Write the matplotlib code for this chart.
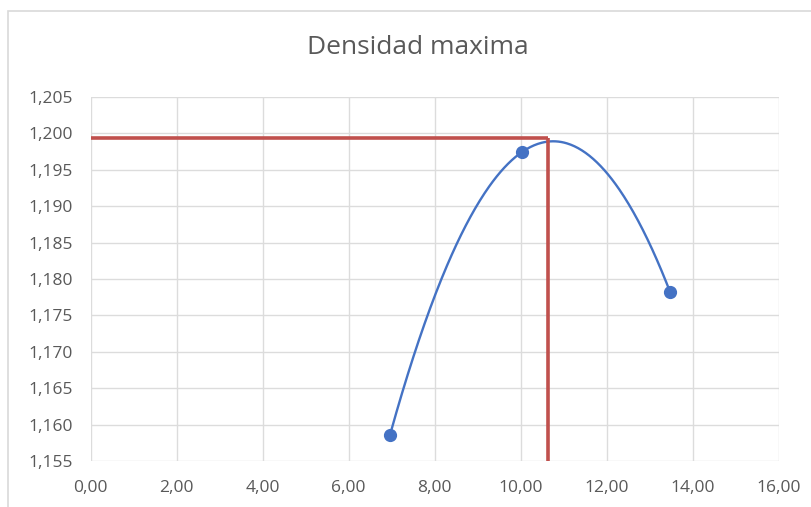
import numpy as np
import matplotlib
matplotlib.use("Agg")
import matplotlib.pyplot as plt
from matplotlib.patches import Rectangle
from matplotlib.ticker import FuncFormatter, MultipleLocator

# Measured temperature (x) and density (y)
temperatura = [6.96, 10.02, 13.47]
densidad = [1.15857, 1.1974, 1.17828]

# Reference lines marking the maximum density
x_max = 10.64
y_max = 1.19938

title = "Densidad maxima"

plt.rcParams['font.family'] = ['Open Sans', 'DejaVu Sans']

fig = plt.figure(figsize=(8.11, 5.07), dpi=100)
ax = fig.add_axes([0.1118, 0.0907, 0.8484, 0.718])

# Chart frame
fig.patches.append(Rectangle((8 / 811, -0.1), 1.2, 1 - 11 / 507 + 0.1,
                             transform=fig.transFigure, fill=False,
                             edgecolor="#d9d9d9", linewidth=1.2, zorder=0))

# Second-order polynomial curve through the measured points
coef = np.polyfit(temperatura, densidad, 2)
xs = np.linspace(min(temperatura), max(temperatura), 300)
ax.plot(xs, np.polyval(coef, xs), color="#4472C4", linewidth=1.7, zorder=3)
ax.plot(temperatura, densidad, 'o', color="#4472C4", markersize=8.5, zorder=4)

# Maximum markers
ax.plot([0, x_max], [y_max, y_max], color="#C0504D", linewidth=2.6,
        solid_capstyle="butt", zorder=5)
ax.plot([x_max, x_max], [1.155, y_max], color="#C0504D", linewidth=2.6,
        solid_capstyle="butt", zorder=5)

ax.set_xlim(0, 16)
ax.set_ylim(1.155, 1.205)
ax.xaxis.set_major_locator(MultipleLocator(2))
ax.yaxis.set_major_locator(MultipleLocator(0.005))
ax.xaxis.set_major_formatter(FuncFormatter(lambda v, p: f"{v:.2f}".replace(".", ",")))
ax.yaxis.set_major_formatter(FuncFormatter(lambda v, p: f"{v:.3f}".replace(".", ",")))

ax.grid(True, color="#dcdcdc", linewidth=1.0)
ax.set_axisbelow(True)
for s in ax.spines.values():
    s.set_visible(False)
ax.tick_params(length=0, labelsize=12.5, labelcolor="#595959")
ax.tick_params(axis="x", pad=14)
ax.tick_params(axis="y", pad=13)

fig.text(418 / 811, 1 - 48 / 507, title, ha="center", va="center",
         fontsize=19, color="#595959")

fig.savefig("out.png", dpi=100, facecolor="white")
